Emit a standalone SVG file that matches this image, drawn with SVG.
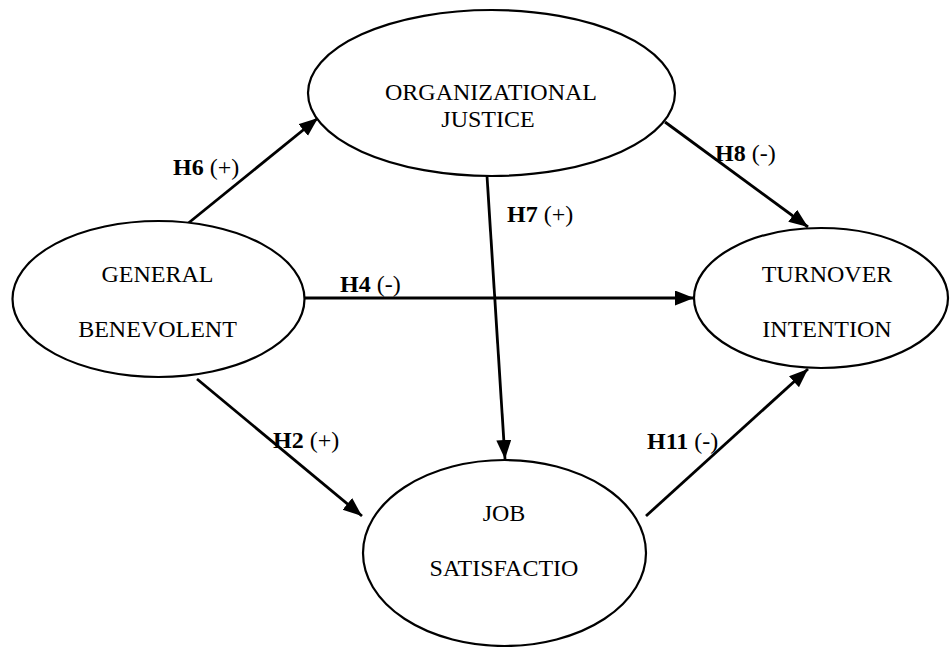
<svg xmlns="http://www.w3.org/2000/svg" width="952" height="647" viewBox="0 0 952 647">
<style>
.node ellipse{fill:#fff;stroke:#000;stroke-width:2.2}
.node text{font-family:"Liberation Serif","Times New Roman",serif;font-size:24px;fill:#000;text-anchor:middle}
.conn line{stroke:#000;stroke-width:2.8;marker-end:url(#ah)}
.lbl{font-family:"Liberation Serif","Times New Roman",serif;font-size:24px;fill:#000}
.lbl .b{font-weight:bold}
</style>
<defs>
<marker id="ah" markerUnits="userSpaceOnUse" markerWidth="20" markerHeight="16" refX="19" refY="7.5" orient="auto">
<path d="M0,0 L19,7.5 L0,15 z" fill="#000"/>
</marker>
</defs>
<rect width="952" height="647" fill="#fff"/>
<g id="connectors" class="conn">
<line x1="186" y1="225" x2="318" y2="118"/>
<line x1="665" y1="122" x2="808" y2="227"/>
<line x1="304" y1="298" x2="694" y2="298"/>
<line x1="487" y1="176" x2="505" y2="459"/>
<line x1="197" y1="379" x2="362" y2="516"/>
<line x1="646" y1="516" x2="808" y2="369"/>
</g>
<g id="node-oj" class="node">
<ellipse cx="491.5" cy="93" rx="183.5" ry="83"/>
<text x="491" y="100">ORGANIZATIONAL</text>
<text x="488" y="127">JUSTICE</text>
</g>
<g id="node-gb" class="node">
<ellipse cx="158.5" cy="299" rx="146" ry="78"/>
<text x="157.5" y="282">GENERAL</text>
<text x="157.5" y="337">BENEVOLENT</text>
</g>
<g id="node-ti" class="node">
<ellipse cx="821" cy="298" rx="127" ry="70"/>
<text x="827" y="282">TURNOVER</text>
<text x="827" y="337">INTENTION</text>
</g>
<g id="node-js" class="node">
<ellipse cx="504.5" cy="553" rx="141.5" ry="93"/>
<text x="504" y="521">JOB</text>
<text x="504" y="576">SATISFACTIO</text>
</g>
<g id="labels">
<text class="lbl" x="173" y="175"><tspan class="b">H6</tspan> (+)</text>
<text class="lbl" x="715" y="161"><tspan class="b">H8</tspan> (-)</text>
<text class="lbl" x="507" y="222"><tspan class="b">H7</tspan> (+)</text>
<text class="lbl" x="340" y="292"><tspan class="b">H4</tspan> (-)</text>
<text class="lbl" x="273" y="448"><tspan class="b">H2</tspan> (+)</text>
<text class="lbl" x="647" y="449"><tspan class="b">H11</tspan> (-)</text>
</g>
</svg>
